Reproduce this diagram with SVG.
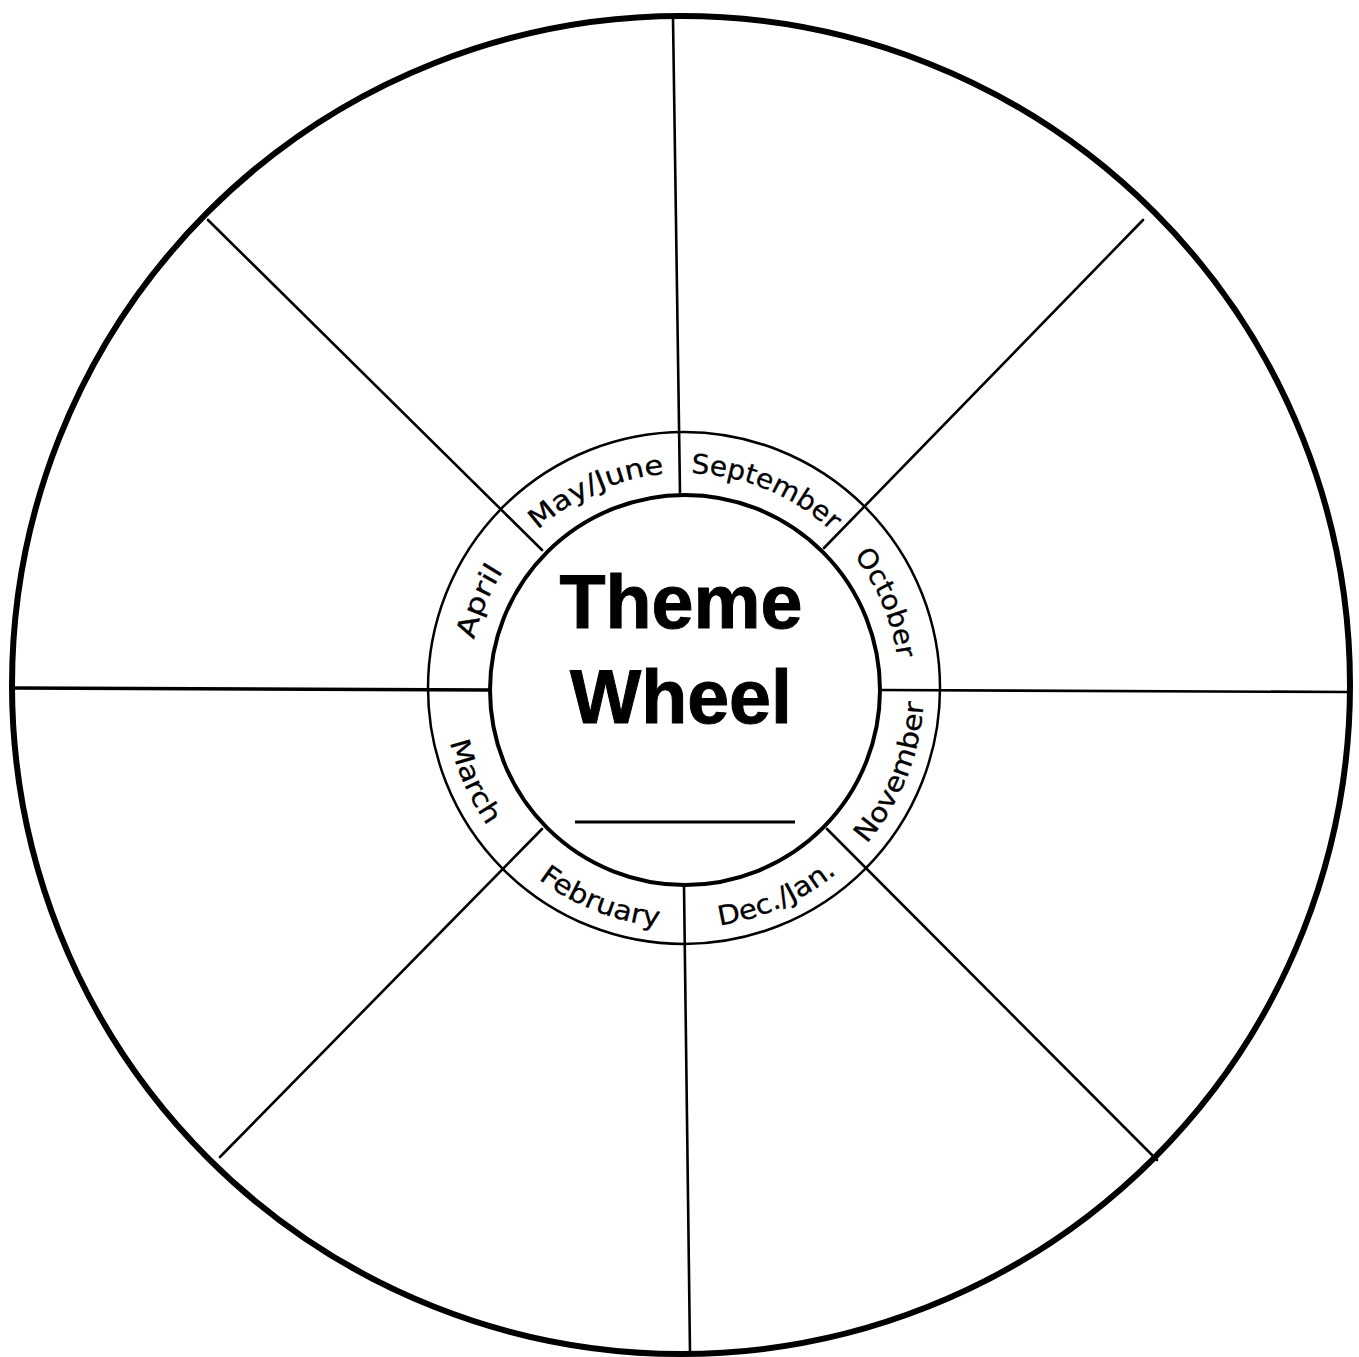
<svg xmlns="http://www.w3.org/2000/svg" width="1359" height="1357" viewBox="0 0 1359 1357">
<style>
.spoke{stroke:#000;stroke-width:2.6;fill:none;stroke-linecap:round}
.lbl{font-family:"DejaVu Sans","Liberation Sans",sans-serif;font-size:27px;fill:#000;stroke:#000;stroke-width:0.3}
.title{font-family:"Liberation Sans",Arial,sans-serif;font-weight:bold;font-size:76px;fill:#000;text-anchor:middle;stroke:#000;stroke-width:1}
</style>
<defs>
<path id="cw" d="M 684,904 A 215 215 0 1 1 684,473 A 215 215 0 1 1 684,904"/>
<path id="ccw" d="M 684,448 A 240 240 0 1 0 684,928 A 240 240 0 1 0 684,448"/>
</defs>
<rect width="1359" height="1357" fill="#fff"/>
<g id="connectors">
<line class="spoke" x1="673" y1="18" x2="680" y2="493"/>
<line class="spoke" x1="684" y1="886" x2="690" y2="1352"/>
<line class="spoke" x1="14" y1="688" x2="490" y2="690" style="stroke-width:3.5"/>
<line class="spoke" x1="879" y1="690" x2="1348" y2="692"/>
<line class="spoke" x1="208" y1="220" x2="542" y2="550"/>
<line class="spoke" x1="1143" y1="220" x2="824" y2="548"/>
<line class="spoke" x1="220" y1="1157" x2="542" y2="829"/>
<line class="spoke" x1="1157" y1="1160" x2="827" y2="829"/>
</g>
<g id="outer-wheel">
<circle cx="681" cy="685" r="669" fill="none" stroke="#000" stroke-width="6"/>
</g>
<g id="month-ring">
<circle cx="684" cy="688" r="256" fill="none" stroke="#000" stroke-width="2.5"/>
<text class="lbl"><textPath href="#cw" startOffset="43.33%" text-anchor="middle" textLength="141" lengthAdjust="spacingAndGlyphs">May/June</textPath></text>
<text class="lbl"><textPath href="#cw" startOffset="56.25%" text-anchor="middle" textLength="155" lengthAdjust="spacingAndGlyphs">September</textPath></text>
<text class="lbl"><textPath href="#cw" startOffset="68.6%" text-anchor="middle" textLength="113" lengthAdjust="spacingAndGlyphs">October</textPath></text>
<text class="lbl"><textPath href="#cw" startOffset="31.4%" text-anchor="middle" textLength="75" lengthAdjust="spacingAndGlyphs">April</textPath></text>
<text class="lbl"><textPath href="#ccw" startOffset="68.9%" text-anchor="middle" textLength="155" lengthAdjust="spacingAndGlyphs">November</textPath></text>
<text class="lbl"><textPath href="#ccw" startOffset="56.67%" text-anchor="middle" textLength="130" lengthAdjust="spacingAndGlyphs">Dec./Jan.</textPath></text>
<text class="lbl"><textPath href="#ccw" startOffset="43.97%" text-anchor="middle" textLength="131" lengthAdjust="spacingAndGlyphs">February</textPath></text>
<text class="lbl"><textPath href="#ccw" startOffset="31.67%" text-anchor="middle" textLength="92" lengthAdjust="spacingAndGlyphs">March</textPath></text>
</g>
<g id="hub">
<circle cx="685" cy="690" r="195" fill="#fff" stroke="#000" stroke-width="4"/>
<text class="title" x="681" y="628" textLength="243" lengthAdjust="spacingAndGlyphs">Theme</text>
<text class="title" x="681" y="723" textLength="222" lengthAdjust="spacingAndGlyphs">Wheel</text>
<line x1="575" y1="822" x2="795" y2="822" stroke="#000" stroke-width="3"/>
</g>
</svg>
